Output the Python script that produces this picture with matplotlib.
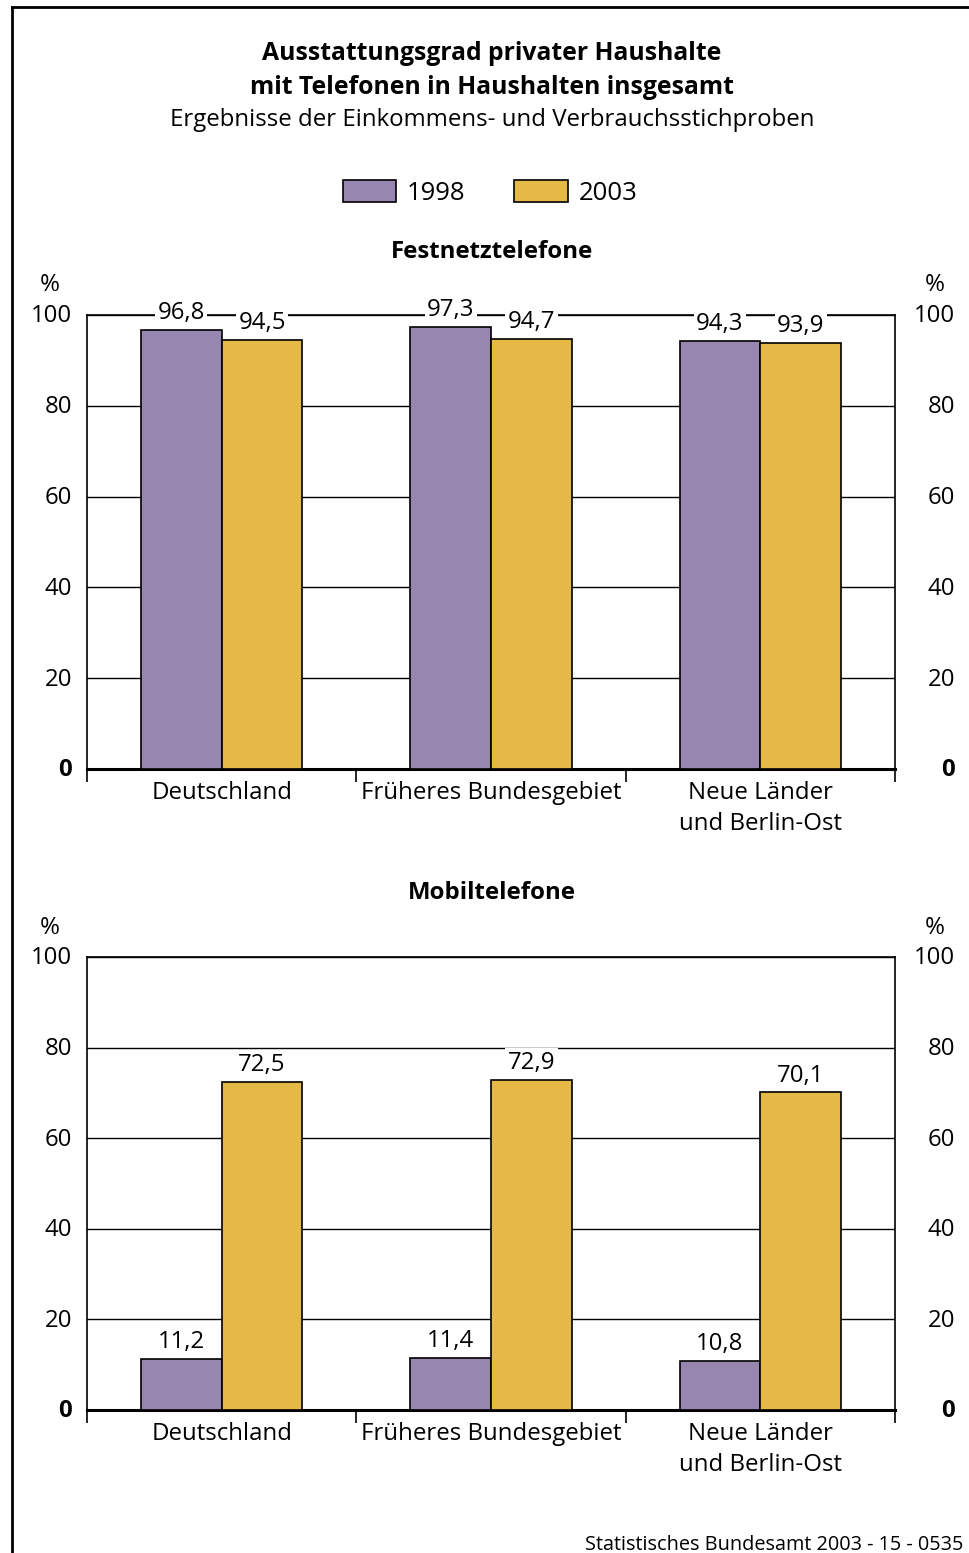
import matplotlib.pyplot as plt
from matplotlib.patches import Patch
from matplotlib.transforms import blended_transform_factory
from matplotlib.lines import Line2D

plt.rcParams["font.family"] = ["Open Sans", "DejaVu Sans"]

regions = ["Deutschland", "Früheres Bundesgebiet", "Neue Länder\nund Berlin-Ost"]
years = ["1998", "2003"]
festnetz_1998 = [96.8, 97.3, 94.3]
festnetz_2003 = [94.5, 94.7, 93.9]
mobil_1998 = [11.2, 11.4, 10.8]
mobil_2003 = [72.5, 72.9, 70.1]
y_ticks = [0, 20, 40, 60, 80, 100]

PURPLE = "#9787b0"
YELLOW = "#e4b946"
FS = 17.3

fig = plt.figure(figsize=(9.7, 15.53), dpi=100)

# frame lines (top and left)
fig.add_artist(Line2D([12 / 970, 1], [1 - 7 / 1553] * 2, color="black", lw=2))
fig.add_artist(Line2D([12 / 970] * 2, [0, 1 - 7 / 1553], color="black", lw=2))

fig.text(0.507, 1 - 54 / 1553, "Ausstattungsgrad privater Haushalte",
         ha="center", va="center", fontsize=17.8, fontweight="bold")
fig.text(0.507, 1 - 87 / 1553, "mit Telefonen in Haushalten insgesamt",
         ha="center", va="center", fontsize=17.8, fontweight="bold")
fig.text(0.507, 1 - 120 / 1553, "Ergebnisse der Einkommens- und Verbrauchsstichproben",
         ha="center", va="center", fontsize=17.3)

handles = [Patch(facecolor=PURPLE, edgecolor="black", lw=1.2),
           Patch(facecolor=YELLOW, edgecolor="black", lw=1.2)]
fig.legend(handles, years, loc="center", bbox_to_anchor=(0.505, 1 - 193 / 1553),
           ncol=2, frameon=False, fontsize=18.5, handlelength=2.1, handleheight=0.95,
           handletextpad=0.4, columnspacing=1.9)


def draw_panel(rect, title, title_y, v1998, v2003):
    ax = fig.add_axes(rect)
    x = range(len(regions))
    w = 0.3
    b1 = ax.bar([i - w / 2 for i in x], v1998, w, color=PURPLE,
                edgecolor="black", lw=1.2, zorder=3)
    b2 = ax.bar([i + w / 2 for i in x], v2003, w, color=YELLOW,
                edgecolor="black", lw=1.2, zorder=3)
    # value labels sit on a white box so the grid / top spine is cut behind them
    for bars, vals in ((b1, v1998), (b2, v2003)):
        for bar, v in zip(bars, vals):
            ax.annotate(f"{v:.1f}".replace(".", ","),
                        (bar.get_x() + bar.get_width() / 2, v),
                        xytext=(0, 12.2), textcoords="offset points",
                        ha="center", va="center", fontsize=FS, zorder=6,
                        bbox=dict(boxstyle="square,pad=0.1", fc="white", ec="none"))

    ax.set_xlim(-0.5, 2.5)
    ax.set_ylim(0, 100)
    ax.set_yticks(y_ticks)
    ax.set_yticklabels([])
    ax.tick_params(axis="y", length=0)
    ax.yaxis.grid(True, color="black", lw=1.0)
    ax.set_axisbelow(True)

    ax.set_xticks(list(x))
    ax.set_xticklabels(regions, fontsize=FS, linespacing=1.4)
    ax.set_xticks([-0.5, 0.5, 1.5, 2.5], minor=True)
    ax.tick_params(axis="x", which="major", length=0, pad=8.5)
    ax.tick_params(axis="x", which="minor", length=9, width=1.2, direction="out")

    for side in ("left", "right", "top"):
        ax.spines[side].set_linewidth(1.2)
    ax.spines["bottom"].set_linewidth(2.2)

    trans_l = blended_transform_factory(ax.transAxes, ax.transData)
    for t in y_ticks:
        weight = "bold" if t == 0 else "normal"
        ax.text(-15 / 808, t - 0.3, str(t), transform=trans_l, ha="right", va="center",
                fontsize=FS, fontweight=weight)
        ax.text(1 + 60 / 808, t - 0.3, str(t), transform=trans_l, ha="right", va="center",
                fontsize=FS, fontweight=weight)
    ax.text(-37 / 808, 106.5, "%", transform=trans_l, ha="center", va="center",
            fontsize=FS)
    ax.text(1 + 40 / 808, 106.5, "%", transform=trans_l, ha="center", va="center",
            fontsize=FS)

    fig.text(0.507, 1 - title_y / 1553, title, ha="center", va="center",
             fontsize=FS, fontweight="bold")
    return ax


draw_panel([87 / 970, 1 - 769 / 1553, 808 / 970, 454 / 1553],
           "Festnetztelefone", 252, festnetz_1998, festnetz_2003)
draw_panel([87 / 970, 1 - 1410 / 1553, 808 / 970, 453 / 1553],
           "Mobiltelefone", 893, mobil_1998, mobil_2003)

fig.text(963 / 970, 1 - 1545 / 1553, "Statistisches Bundesamt 2003 - 15 - 0535",
         ha="right", va="center", fontsize=14.3)

fig.savefig("out.png", dpi=100)
